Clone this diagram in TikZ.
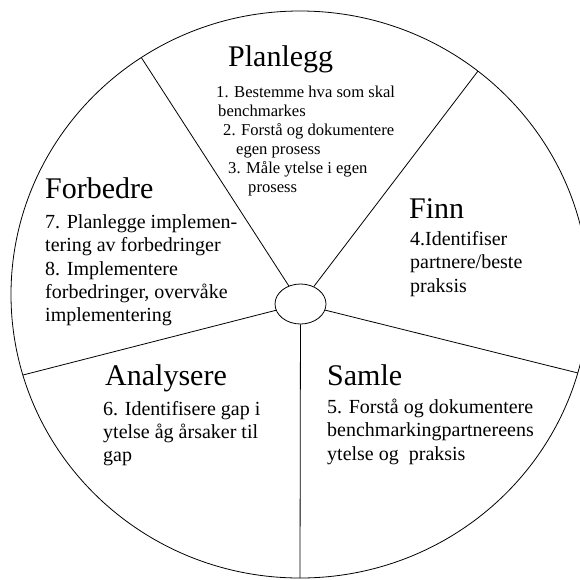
\documentclass[tikz,border=0pt]{standalone}
\usepackage{fontspec}
\setmainfont{Liberation Serif}
\usetikzlibrary{shapes.geometric}
\tikzset{
  rim/.style={line width=0.8pt},
  spoke/.style={line width=0.8pt},
  hub/.style={draw, ellipse, line width=0.8pt, minimum width=51pt, minimum height=40pt, inner sep=0pt},
  ttl/.style={anchor=base west, inner sep=0pt, font=\fontsize{30}{36}\selectfont},
  itm/.style={anchor=base west, inner sep=0pt, font=\fontsize{20}{24}\selectfont},
  sitm/.style={anchor=base west, inner sep=0pt, font=\fontsize{16.6}{19}\selectfont}
}
\begin{document}
\begin{tikzpicture}[x=1pt,y=-1pt]
\useasboundingbox (0,0) rectangle (580,579);
\clip (0,0) rectangle (580,579);
\coordinate (o) at (300,294.5);
\draw[rim] (o) ellipse [x radius=289, y radius=283.5];
\node[hub] (c) at (300.5,304) {};
\path (o) ++(236.7:289 and 283.5) coordinate (p1);
\path (o) ++(308:289 and 283.5) coordinate (p2);
\path (o) ++(16.06:289 and 283.5) coordinate (p3);
\path (o) ++(90:289 and 283.5) coordinate (p4);
\path (o) ++(163.5:289 and 283.5) coordinate (p5);
\draw[spoke] (c) -- (p1);
\draw[spoke] (c) -- (p2);
\draw[spoke] (c) -- (p3);
\draw[spoke] (c) -- (p4);
\draw[spoke] (c) -- (p5);
% Planlegg
\node[ttl] (tplan) at (228,66) {Planlegg};
\node[sitm] (pl1) at (216,97) {1. Bestemme hva som skal};
\node[sitm] (pl2) at (218,116) {benchmarkes};
\node[sitm] (pl3) at (223,135) {2. Forstå og dokumentere};
\node[sitm] (pl4) at (236,154) {egen prosess};
\node[sitm] (pl5) at (228,173) {3. Måle ytelse i egen};
\node[sitm] (pl6) at (248,192) {prosess};
% Finn
\node[ttl] (tfinn) at (409,218) {Finn};
\node[itm] (fi1) at (410,245) {4.Identifiser};
\node[itm] (fi2) at (410,268.5) {partnere/beste};
\node[itm] (fi3) at (410,292) {praksis};
% Forbedre
\node[ttl] (tforb) at (45,198) {Forbedre};
\node[itm] (fo1) at (45,228.3) {7. Planlegge implemen-};
\node[itm] (fo2) at (45,251.6) {tering av forbedringer};
\node[itm] (fo3) at (45,275) {8. Implementere};
\node[itm] (fo4) at (45,298.3) {forbedringer, overvåke};
\node[itm] (fo5) at (45,321.6) {implementering};
% Analysere
\node[ttl] (tanal) at (105,385) {Analysere};
\node[itm] (an1) at (103,415) {6. Identifisere gap i};
\node[itm] (an2) at (103,438.3) {ytelse åg årsaker til};
\node[itm] (an3) at (103,461.6) {gap};
% Samle
\node[ttl] (tsaml) at (327,385) {Samle};
\node[itm] (sa1) at (327,413) {5. Forstå og dokumentere};
\node[itm] (sa2) at (327,436.5) {benchmarkingpartnereens};
\node[itm] (sa3) at (327,460) {ytelse og~ praksis};
\end{tikzpicture}
\end{document}
